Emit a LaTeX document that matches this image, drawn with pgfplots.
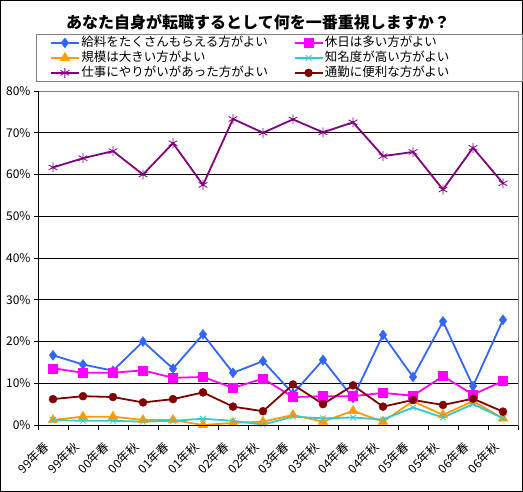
\documentclass[border=0pt]{standalone}
\usepackage{fontspec}
\setmainfont{Noto Sans CJK JP}
\usepackage{pgfplots}
\usepackage{pgfplotstable}
\pgfplotsset{compat=1.18}
\definecolor{cblue}{RGB}{51,102,255}
\definecolor{cmag}{RGB}{255,0,255}
\definecolor{corange}{RGB}{255,153,0}
\definecolor{ccyan}{RGB}{51,204,204}
\definecolor{cpurple}{RGB}{128,0,128}
\definecolor{cdred}{RGB}{128,0,0}
\pgfplotstableread{
x b p o c u r
0 16.7 13.6 1.2 1.2 61.7 6.2
1 14.5 12.5 2.0 1.0 63.9 6.9
2 13.0 12.5 2.0 1.0 65.6 6.7
3 20.0 13.1 1.2 0.8 60.0 5.4
4 13.5 11.3 1.2 1.0 67.5 6.2
5 21.7 11.5 0.0 1.5 57.5 7.8
6 12.5 8.9 0.5 1.0 73.3 4.4
7 15.3 11.1 0.8 0.1 70.0 3.3
8 7.5 6.7 2.4 2.0 73.2 9.7
9 15.6 6.9 0.8 1.6 70.1 5.0
10 6.5 6.9 3.4 1.8 72.5 9.5
11 21.6 7.7 0.8 1.3 64.4 4.4
12 11.5 7.0 5.7 4.2 65.4 6.0
13 24.8 11.7 2.4 1.8 56.4 4.8
14 9.3 7.3 5.7 5.0 66.4 6.3
15 25.2 10.5 1.6 1.6 57.9 3.2
}\datatable
\begin{document}
\begin{tikzpicture}
\useasboundingbox (0pt,0pt) rectangle (523pt,-492pt);
\draw[black, line width=1pt] (0.5pt,-0.5pt) rectangle (522.5pt,-491.5pt);
\node[font=\fontsize{16}{18}\selectfont\bfseries] at (258pt,-22pt) {あなた自身が転職するとして何を一番重視しますか？};
\begin{axis}[
 at={(38pt,-425pt)}, anchor=south west, scale only axis, width=480pt, height=334pt,
 xmin=-0.5, xmax=15.5, ymin=0, ymax=80,
 xtick={0,...,15},
 xticklabels={99年春,99年秋,00年春,00年秋,01年春,01年秋,02年春,02年秋,03年春,03年秋,04年春,04年秋,05年春,05年秋,06年春,06年秋},
 minor xtick={-0.5,0.5,...,15.5},
 ytick={0,10,...,80},
 yticklabel={\pgfmathprintnumber{\tick}\%},
 ymajorgrids, grid style={black, line width=0.8pt},
 tick pos=left, tick align=outside,
 major x tick style={draw=none},
 minor x tick style={black, line width=0.8pt},
 major tick length=4pt, minor tick length=5pt,
 y tick style={black, line width=0.8pt},
 axis line style={gray, line width=0.8pt},
 ticklabel style={font=\fontsize{12}{14}\selectfont},
 /pgf/number format/assume math mode=true,
 xticklabel style={xshift=-4pt, yshift=-13pt, rotate=45, anchor=east},
 legend columns=2, legend cell align=left,
 legend style={at={(-0.004,1.1707)}, anchor=north west, draw=gray, line width=0.8pt,
   font=\fontsize{12.5}{14}\selectfont, inner xsep=13.5pt, inner ysep=1pt,
   nodes={inner sep=1.5pt, text height=9.5pt, text depth=2.5pt},
   /tikz/every even column/.append style={column sep=24pt}},
 legend image code/.code={\draw[mark repeat=2,mark phase=2,#1] plot coordinates {(0pt,0pt) (14pt,0pt) (28pt,0pt)};},
 clip=false,
 after end axis/.code={\draw[black,line width=0.8pt] (rel axis cs:0,1) -- (rel axis cs:0,0) -- (rel axis cs:1,0);},
]
\addplot[color=cblue, line width=1.8pt, mark=diamond*, mark size=5pt, mark options={line width=0.4pt}] table[x=x,y=b] {\datatable};
\addlegendentry{給料をたくさんもらえる方がよい}
\addplot[color=cmag, line width=1.8pt, mark=square*, mark size=4.5pt, mark options={line width=0.4pt}] table[x=x,y=p] {\datatable};
\addlegendentry{\makebox[182pt][l]{休日は多い方がよい}}
\addplot[color=corange, line width=1.8pt, mark=triangle*, mark size=5.5pt, mark options={line width=0.4pt}] table[x=x,y=o] {\datatable};
\addlegendentry{規模は大きい方がよい}
\addplot[color=ccyan, line width=1.8pt, mark=x, mark size=4pt, mark options={line width=0.8pt}] table[x=x,y=c] {\datatable};
\addlegendentry{\makebox[182pt][l]{知名度が高い方がよい}}
\addplot[color=cpurple, line width=1.8pt, mark=asterisk, mark size=5pt, mark options={line width=0.8pt}] table[x=x,y=u] {\datatable};
\addlegendentry{仕事にやりがいがあった方がよい}
\addplot[color=cdred, line width=1.8pt, mark=*, mark size=4pt, mark options={line width=0.4pt}] table[x=x,y=r] {\datatable};
\addlegendentry{\makebox[182pt][l]{通勤に便利な方がよい}}
\end{axis}
\end{tikzpicture}
\end{document}
